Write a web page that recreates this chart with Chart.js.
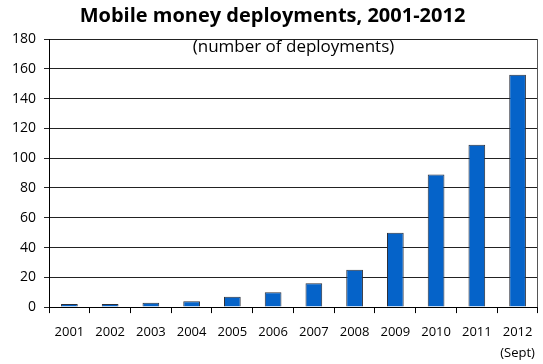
<!DOCTYPE html>
<html>
<head>
<meta charset="utf-8">
<script src="https://cdn.jsdelivr.net/npm/chart.js@4"></script>
<style>
  html, body { margin: 0; padding: 0; background: #fff; }
  #wrap { width: 543px; height: 364px; }
</style>
</head>
<body>
<div id="wrap"><canvas id="myChart"></canvas></div>
<script>
// data
const years = ['2001', '2002', '2003', '2004', '2005', '2006', '2007', '2008', '2009', '2010', '2011', ['2012', '(Sept)']];
const deployments = [2, 2, 3, 4, 7, 10, 16, 25, 50, 89, 109, 156];
const yTicks = [0, 20, 40, 60, 80, 100, 120, 140, 160, 180];

const fontFamily = "'Open Sans', sans-serif";

// subtitle sits inside the plot, plus a frame on the right of the plot area
const framePlugin = {
  id: 'frame',
  afterDraw(chart) {
    const ctx = chart.ctx;
    const a = chart.chartArea;
    ctx.save();
    ctx.strokeStyle = '#555';
    ctx.lineWidth = 1;
    ctx.beginPath();
    ctx.moveTo(Math.round(a.right) - 0.5, a.top);
    ctx.lineTo(Math.round(a.right) - 0.5, a.bottom);
    ctx.stroke();
    ctx.fillStyle = '#000';
    ctx.font = '17px ' + fontFamily;
    ctx.textAlign = 'center';
    ctx.textBaseline = 'middle';
    ctx.fillText('(number of deployments)', (a.left + a.right) / 2, a.top + 8);
    ctx.restore();
  }
};

const ctx = document.getElementById('myChart');

new Chart(ctx, {
  type: 'bar',
  data: {
    labels: years,
    datasets: [{
      label: 'Deployments',
      data: deployments,
      backgroundColor: '#0563c9',
      borderColor: '#2b2f3a',
      borderWidth: 1,
      barPercentage: 0.41,
      categoryPercentage: 1
    }]
  },
  options: {
    responsive: true,
    maintainAspectRatio: false,
    animation: false,
    layout: { padding: { left: 4, right: 2, top: 0, bottom: -8 } },
    scales: {
      x: {
        offset: true,
        grid: {
          offset: true,
          drawOnChartArea: false,
          drawTicks: true,
          tickLength: 6,
          color: '#000'
        },
        border: { color: '#000' },
        ticks: {
          color: '#000',
          padding: 8,
          maxRotation: 0,
          font: { family: fontFamily, size: 13, lineHeight: 1.65 }
        }
      },
      y: {
        min: 0,
        max: 180,
        afterBuildTicks(axis) {
          axis.ticks = yTicks.map(v => ({ value: v }));
        },
        grid: {
          color: '#222',
          tickLength: 5
        },
        border: { color: '#000' },
        ticks: {
          color: '#000',
          padding: 8,
          font: { family: fontFamily, size: 14 }
        }
      }
    },
    plugins: {
      legend: { display: false },
      tooltip: { enabled: false },
      title: {
        display: true,
        text: 'Mobile money deployments, 2001-2012',
        color: '#000',
        font: { family: fontFamily, size: 20, weight: 'bold' },
        padding: { top: 4, bottom: 11 }
      }
    }
  },
  plugins: [framePlugin]
});
</script>
</body>
</html>
